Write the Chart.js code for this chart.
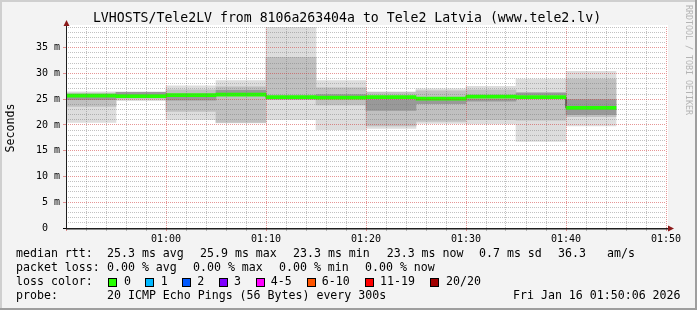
<!DOCTYPE html>
<html>
<head>
<meta charset="utf-8">
<script src="https://cdn.jsdelivr.net/npm/chart.js@4/dist/chart.umd.min.js"></script>
<style>
	html, body { margin: 0; padding: 0; background: #f3f3f3; }
	canvas { display: block; }
</style>
</head>
<body>
<canvas id="chart" width="697" height="310"></canvas>
<script>
// 5 minute rounds, start time of each
const segStart = ["00:50", "00:55", "01:00", "01:05", "01:10", "01:15", "01:20", "01:25", "01:30", "01:35", "01:40"];
// median rtt per round (ms)
const median = [25.7, 25.6, 25.8, 25.9, 25.4, 25.3, 25.4, 25.1, 25.5, 25.4, 23.3];
// smoke: full spread of the 20 pings
const smokeMin = [20.5, 24.7, 21.0, 20.4, 21.0, 19.1, 19.3, 20.3, 20.2, 16.8, 19.8];
const smokeMax = [26.4, 26.4, 27.6, 28.6, 39.0, 28.6, 26.4, 27.0, 27.5, 28.9, 30.4];
// smoke: middle band
const midLow = [23.6, 25.0, 22.6, 20.5, 25.0, 23.9, 19.8, 20.7, 21.0, 20.9, 21.6];
const midHigh = [26.2, 26.3, 26.8, 27.4, 33.1, 27.2, 26.3, 26.6, 26.8, 26.3, 28.9];
// smoke: densest band
const coreLow = [24.9, 25.9, 24.8, 26.0, 25.0, 25.6, 22.8, 24.1, 24.6, 25.8, 22.0];
const coreHigh = [25.5, 26.3, 25.5, 26.7, 25.3, 25.9, 24.9, 25.0, 25.0, 26.2, 24.9];

const startTime = "00:50";
const yLabelStep = 5;
const xLabelStep = 10;

const lossLabels = ["0", "1", "2", "3", "4-5", "6-10", "11-19", "20/20"];
const lossColors = ["#26ff00", "#00b8ff", "#0059ff", "#7e00ff", "#ff00ff", "#ff5500", "#ff0000", "#a10000"];

const MONO = '"DejaVu Sans Mono", monospace';

function toMin(t) {
	const p = t.split(":");
	return +p[0] * 60 + +p[1];
}
function fmtTime(m) {
	const h = Math.floor(m / 60) % 24, mm = m % 60;
	return String(h).padStart(2, "0") + ":" + String(mm).padStart(2, "0");
}

const t0 = toMin(startTime);
const centers = segStart.map((s) => toMin(s) - t0 + 2.5);
const band = (lo, hi) => centers.map((x, i) => ({ x: x, y: [lo[i], hi[i]] }));
const steps = segStart.map((s, i) => ({ x: toMin(s) - t0, y: median[i] }));
steps.push({ x: steps[steps.length - 1].x + 5, y: median[median.length - 1] });

const barStyle = { type: "bar", grouped: false, borderWidth: 0, barThickness: 50 };

const decor = {
	id: "decor",
	beforeDraw(chart) {
		const { ctx, chartArea: a } = chart;
		ctx.save();
		ctx.fillStyle = "#f3f3f3";
		ctx.fillRect(0, 0, 697, 310);
		ctx.fillStyle = "#ffffff";
		ctx.fillRect(a.left, a.top - 2, a.right - a.left + 2, a.bottom - a.top + 2);
		ctx.restore();
	},
	afterDraw(chart) {
		const { ctx, chartArea: a } = chart;
		ctx.save();
		// frame
		ctx.fillStyle = "#cfcfcf";
		ctx.fillRect(0, 0, 697, 2);
		ctx.fillRect(0, 0, 2, 310);
		ctx.fillStyle = "#9e9e9e";
		ctx.fillRect(0, 308, 697, 2);
		ctx.fillRect(695, 0, 2, 310);

		// axes with arrows
		ctx.strokeStyle = "#1f1f1f";
		ctx.lineWidth = 1;
		ctx.beginPath();
		ctx.moveTo(a.left + 0.5, a.bottom + 0.5);
		ctx.lineTo(a.left + 0.5, 24);
		ctx.stroke();
		ctx.lineWidth = 1.5;
		ctx.beginPath();
		ctx.moveTo(a.left, a.bottom + 0.75);
		ctx.lineTo(668, a.bottom + 0.75);
		ctx.stroke();
		ctx.fillStyle = "#8b1a1a";
		ctx.beginPath();
		ctx.moveTo(a.left + 0.5, 20);
		ctx.lineTo(a.left - 2.5, 26);
		ctx.lineTo(a.left + 3.5, 26);
		ctx.fill();
		ctx.beginPath();
		ctx.moveTo(674, a.bottom + 0.5);
		ctx.lineTo(668, a.bottom - 2.5);
		ctx.lineTo(668, a.bottom + 3.5);
		ctx.fill();

		// title
		ctx.fillStyle = "#000";
		ctx.textBaseline = "middle";
		ctx.textAlign = "center";
		ctx.font = "13.2px " + MONO;
		ctx.fillText("LVHOSTS/Tele2LV from 8106a263404a to Tele2 Latvia (www.tele2.lv)", 347, 19);

		// y title
		ctx.save();
		ctx.translate(11, 128);
		ctx.rotate(-Math.PI / 2);
		ctx.font = "11.6px " + MONO;
		ctx.fillText("Seconds", 0, 0);
		ctx.restore();

		// watermark
		ctx.save();
		ctx.translate(688, 5);
		ctx.rotate(Math.PI / 2);
		ctx.textAlign = "left";
		ctx.fillStyle = "#b4b4b4";
		ctx.font = "8.3px " + MONO;
		ctx.fillText("RRDTOOL / TOBI OETIKER", 0, 0);
		ctx.restore();

		// legend
		ctx.textAlign = "left";
		ctx.font = "11.6px " + MONO;
		const rows = [
			[254, [[16, "median rtt:"], [107, "25.3 ms avg"], [200, "25.9 ms max"], [293, "23.3 ms min"],
				[386.7, "23.3 ms now"], [479, "0.7 ms sd"], [558, "36.3"], [607, "am/s"]]],
			[268, [[16, "packet loss:"], [107, "0.00 % avg"], [193, "0.00 % max"], [279, "0.00 % min"], [365, "0.00 % now"]]],
			[282, [[16, "loss color:"]]],
			[296, [[16, "probe:"], [107, "20 ICMP Echo Pings (56 Bytes) every 300s"], [513, "Fri Jan 16 01:50:06 2026"]]],
		];
		rows.forEach(([y, parts]) => parts.forEach(([x, s]) => ctx.fillText(s, x, y)));

		const boxX = [108.5, 145.5, 182.5, 219.5, 256.5, 307.5, 365.5, 430.5];
		const textX = [124, 160.7, 197.3, 234, 270.7, 321.7, 380, 446];
		lossLabels.forEach((lab, i) => {
			ctx.fillStyle = lossColors[i];
			ctx.fillRect(boxX[i], 278.5, 8, 8);
			ctx.strokeStyle = "#000";
			ctx.lineWidth = 1;
			ctx.strokeRect(boxX[i], 278.5, 8, 8);
			ctx.fillStyle = "#000";
			ctx.fillText(lab, textX[i], 282);
		});
		ctx.restore();
	},
};

const minorGrid = "rgba(120,120,120,0.45)";
const majorGrid = "rgba(205,45,45,0.5)";

new Chart(document.getElementById("chart"), {
	type: "bar",
	data: {
		datasets: [
			{ ...barStyle, label: "median", data: centers.map((x, i) => ({ x: x, y: [median[i] - 0.3, median[i] + 0.3] })), backgroundColor: "#26ff00", order: 0 },
			{ type: "line", label: "step", data: steps, stepped: "before", borderColor: "#222", borderWidth: 1, pointRadius: 0, order: 1 },
			{ ...barStyle, label: "core", data: band(coreLow, coreHigh), backgroundColor: "#999999", order: 2 },
			{ ...barStyle, label: "mid", data: band(midLow, midHigh), backgroundColor: "#c0c0c0", order: 3 },
			{ ...barStyle, label: "spread", data: band(smokeMin, smokeMax), backgroundColor: "#dddddd", order: 4 },
		],
	},
	options: {
		responsive: false,
		animation: false,
		events: [],
		layout: { padding: { left: 0, top: 27, right: 31, bottom: 0 } },
		plugins: {
			legend: { display: false },
			tooltip: { enabled: false },
		},
		scales: {
			x: {
				type: "linear",
				min: 0,
				max: 60,
				offset: false,
				afterFit: (s) => { s.height = 82; },
				grid: {
					offset: false,
					z: 1,
					tickLength: 3,
					color: (c) => (c.tick.value % xLabelStep === 0 ? majorGrid : minorGrid),
					tickColor: (c) => (c.tick.value % xLabelStep === 0 ? majorGrid : minorGrid),
				},
				border: { display: false, dash: [1, 1] },
				ticks: {
					stepSize: 2,
					autoSkip: false,
					maxRotation: 0,
					padding: 2,
					color: "#000",
					font: { family: MONO, size: 10 },
					callback: (v) => (v % xLabelStep === 0 && v > 0 ? fmtTime(t0 + v) : ""),
				},
			},
			y: {
				min: 0,
				max: 39,
				afterFit: (s) => { s.width = 66; },
				grid: {
					z: 1,
					tickLength: 3,
					color: (c) => (c.tick.value % yLabelStep === 0 ? majorGrid : minorGrid),
					tickColor: (c) => (c.tick.value === 0 ? "#000" : c.tick.value % yLabelStep === 0 ? majorGrid : "rgba(0,0,0,0)"),
				},
				border: { display: false, dash: [1, 1] },
				ticks: {
					stepSize: 1,
					autoSkip: false,
					includeBounds: false,
					padding: 3,
					color: "#000",
					font: { family: MONO, size: 10 },
					callback: (v) => (v % yLabelStep === 0 ? (v === 0 ? "0  " : v + " m") : ""),
				},
			},
		},
	},
	plugins: [decor],
});
</script>
</body>
</html>
